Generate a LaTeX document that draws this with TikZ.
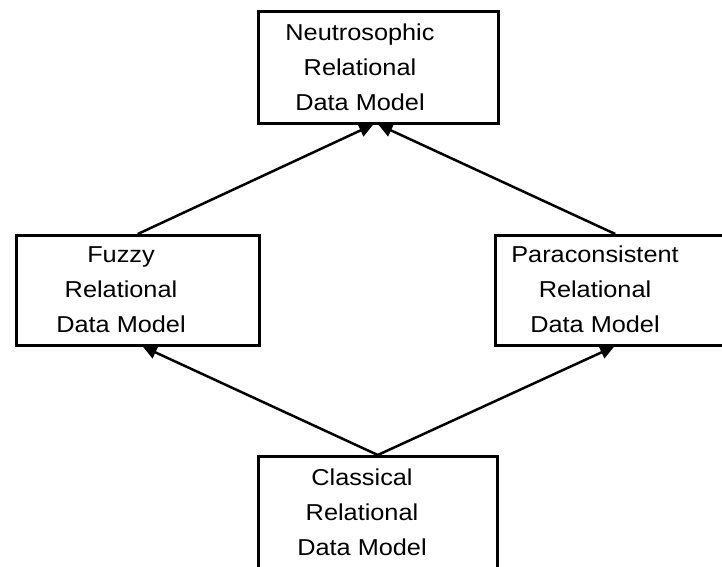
\documentclass[tikz,border=0pt]{standalone}
\usepackage{fontspec}
\setmainfont{Liberation Sans}[FakeStretch=1.1]
\usetikzlibrary{arrows.meta}
\begin{document}
\begin{tikzpicture}[x=1pt,y=-1pt,
  box/.style={draw=black,line width=2.5pt,rectangle,inner sep=0pt,anchor=north west},
  lbl/.style={align=center,inner sep=0pt,anchor=base,font=\fontsize{23}{35}\selectfont},
  conn/.style={line width=2.5pt,-{Triangle[length=14pt,width=13pt]}}]
\useasboundingbox (0,0) rectangle (722,566);
\clip (0,0) rectangle (722,566);
\node[box,minimum width=240pt,minimum height=112pt] (top) at (257,10) {};
\node[box,minimum width=243pt,minimum height=110pt] (left) at (15,234) {};
\node[box,minimum width=240pt,minimum height=110pt] (right) at (494,234) {};
\node[box,minimum width=239pt,minimum height=130pt] (bot) at (257,455) {};
\node[lbl] (toptext) at (360,110) {Neutrosophic\\Relational\\Data Model};
\node[lbl] (lefttext) at (121,332) {Fuzzy\\Relational\\Data Model};
\node[lbl] (righttext) at (595,332) {Paraconsistent\\Relational\\Data Model};
\node[lbl] (bottext) at (362,555) {Classical\\Relational\\Data Model};
\draw[conn] (bot.north) -- ([xshift=5pt]left.south);
\draw[conn] (bot.north) -- ([xshift=-1pt]right.south);
\draw[conn] (left.north) -- ([xshift=-5pt]top.south);
\draw[conn] (right.north) -- (top.south);
\end{tikzpicture}
\end{document}
